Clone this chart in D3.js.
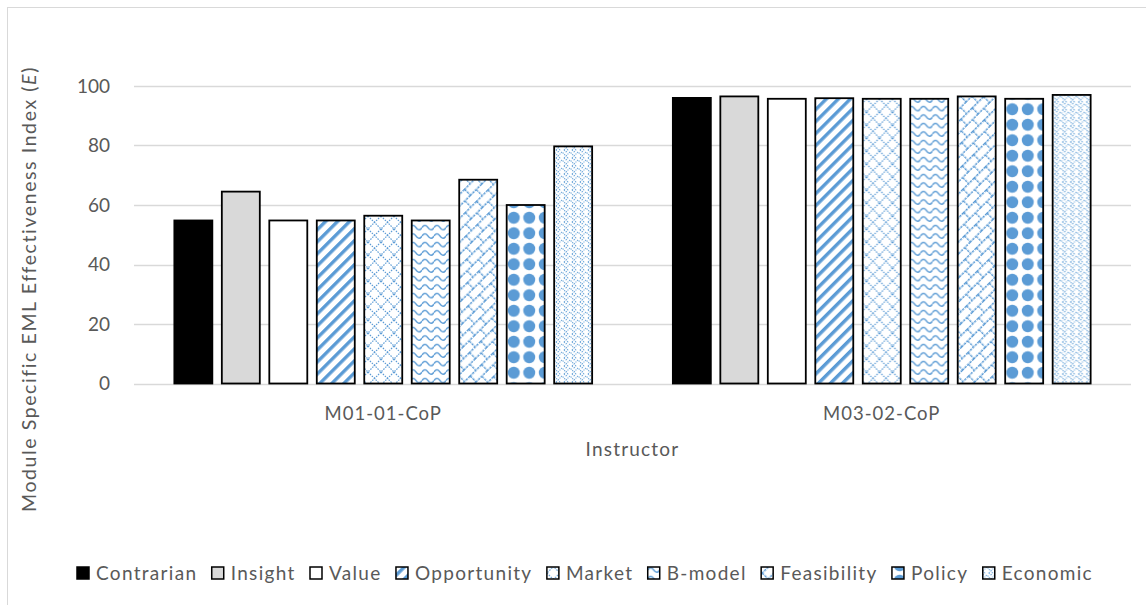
<!DOCTYPE html>
<html>
<head>
<meta charset="utf-8">
<script src="https://cdn.jsdelivr.net/npm/d3@7"></script>
<style>
    body { margin: 0; background: #fff; }
    svg text { font-family: Lato, "Open Sans", sans-serif; fill: #595959; }
</style>
</head>
<body>
<svg id="chart" width="1146" height="605"></svg>
<script>
// Data
const groups = ['M01-01-CoP', 'M03-02-CoP'];
const series = ['Contrarian', 'Insight', 'Value', 'Opportunity', 'Market', 'B-model', 'Feasibility', 'Policy', 'Economic'];
const m01Values = [54.8, 64.5, 54.8, 54.8, 56.4, 54.8, 68.5, 60.0, 79.7];
const m03Values = [96.0, 96.5, 95.7, 95.9, 95.7, 95.7, 96.5, 95.7, 97.0];
const yTicks = [0, 20, 40, 60, 80, 100];

const values = [m01Values, m03Values];
const BLUE = '#5B9BD5';

const svg = d3.select('#chart');
const margin = { left: 134, right: 15, top: 86, bottom: 221.5 };
const width = 1146 - margin.left - margin.right;
const height = 605 - margin.top - margin.bottom;

// Chart frame
svg.append('rect')
    .attr('x', 7.5).attr('y', 7.5)
    .attr('width', 1200).attr('height', 700)
    .attr('fill', 'none')
    .attr('stroke', '#D9D9D9');

// Fill patterns
const defs = svg.append('defs');

function makePattern(id, w, h, transform) {
    const p = defs.append('pattern')
        .attr('id', id)
        .attr('patternUnits', 'userSpaceOnUse')
        .attr('width', w).attr('height', h);
    if (transform) p.attr('patternTransform', transform);
    p.append('rect').attr('width', w).attr('height', h).attr('fill', '#fff');
    return p;
}

// wide upward diagonal
makePattern('p-opportunity', 8.5, 8.5, 'rotate(45)')
    .append('rect').attr('width', 3.4).attr('height', 8.5).attr('fill', BLUE);

// dotted diamond lattice
makePattern('p-market', 13, 13)
    .append('path')
    .attr('d', 'M0,0L13,13M13,0L0,13')
    .attr('stroke', BLUE).attr('stroke-width', 1.2)
    .attr('stroke-dasharray', '1.5,1.2').attr('fill', 'none');

// waves
makePattern('p-bmodel', 12, 8.5)
    .append('path')
    .attr('d', 'M0,5.5Q3,1 6,5.5T12,5.5')
    .attr('stroke', BLUE).attr('stroke-width', 1.5).attr('fill', 'none');

// diagonal brick
const brick = makePattern('p-feasibility', 16, 17, 'rotate(-45)');
brick.append('path')
    .attr('d', 'M0,0.7H16M0,9.2H16M0.7,0.7V9.2M8.7,9.2V17')
    .attr('stroke', BLUE).attr('stroke-width', 1.4)
    .attr('stroke-dasharray', '2.5,1').attr('fill', 'none');

// spheres
makePattern('p-policy', 15.5, 15.5)
    .append('circle')
    .attr('cx', 7.75).attr('cy', 7.75).attr('r', 6)
    .attr('fill', BLUE);

// light dotted zigzag weave
const zig = makePattern('p-economic', 8, 8);
zig.append('path')
    .attr('d', 'M0,6L4,2L8,6M0,2L2,0M6,0L8,2M2,8L0,6M6,8L8,6')
    .attr('stroke', BLUE).attr('stroke-width', 1.2)
    .attr('stroke-dasharray', '1.2,1').attr('fill', 'none')
    .attr('opacity', 0.85);

const fills = ['#000000', '#D9D9D9', '#FFFFFF', 'url(#p-opportunity)', 'url(#p-market)',
    'url(#p-bmodel)', 'url(#p-feasibility)', 'url(#p-policy)', 'url(#p-economic)'];

// Scales
const x0 = d3.scaleBand().domain(groups).range([0, width]);
const x1 = d3.scaleBand().domain(series).range([0, x0.bandwidth()])
    .paddingInner(0.2).paddingOuter(0.85);
const y = d3.scaleLinear().domain([0, 100]).range([height, 0]);

const g = svg.append('g').attr('transform', `translate(${margin.left},${margin.top})`);

// Gridlines
g.append('g')
    .selectAll('line')
    .data(yTicks)
    .join('line')
    .attr('x1', 0).attr('x2', width)
    .attr('y1', d => Math.round(y(d)) + 0.5).attr('y2', d => Math.round(y(d)) + 0.5)
    .attr('stroke', '#D9D9D9').attr('stroke-width', 1.4);

// Y tick labels
g.append('g')
    .selectAll('text')
    .data(yTicks)
    .join('text')
    .attr('x', -24)
    .attr('y', d => y(d))
    .attr('dy', '0.35em')
    .attr('text-anchor', 'end')
    .attr('font-size', '19px')
    .text(d => d);

// Bars
const groupG = g.selectAll('.group')
    .data(groups)
    .join('g')
    .attr('class', 'group')
    .attr('transform', d => `translate(${x0(d)},0)`);

groupG.selectAll('rect')
    .data((d, gi) => series.map((s, si) => ({ s, si, v: values[gi][si] })))
    .join('rect')
    .attr('x', d => x1(d.s))
    .attr('y', d => y(d.v))
    .attr('width', x1.bandwidth())
    .attr('height', d => y(0) - y(d.v))
    .attr('fill', d => fills[d.si])
    .attr('stroke', '#000')
    .attr('stroke-width', 1.8);

// Category labels
g.append('g')
    .selectAll('text')
    .data(groups)
    .join('text')
    .attr('x', d => x0(d) + x0.bandwidth() / 2)
    .attr('y', height + 36)
    .attr('text-anchor', 'middle')
    .attr('font-size', '18.5px')
    .attr('letter-spacing', '1px')
    .text(d => d);

// Axis titles
g.append('text')
    .attr('x', width / 2)
    .attr('y', height + 72)
    .attr('text-anchor', 'middle')
    .attr('font-size', '19px')
    .attr('letter-spacing', '1.2px')
    .text('Instructor');

const yTitle = svg.append('text')
    .attr('transform', 'translate(36,289) rotate(-90)')
    .attr('text-anchor', 'middle')
    .attr('font-size', '19.5px')
    .attr('letter-spacing', '1.6px');
yTitle.append('tspan').text('Module Specific EML Effectiveness  Index (');
yTitle.append('tspan').attr('font-style', 'italic').text('E');
yTitle.append('tspan').text(')');

// Legend, spread across the same span as the reference
const legendLeft = 77;
const legendRight = 1093;
const legend = svg.append('g').attr('transform', 'translate(0,573)');
const items = legend.selectAll('g')
    .data(series)
    .join('g');
items.append('rect')
    .attr('y', -6).attr('width', 12).attr('height', 12)
    .attr('fill', (d, i) => fills[i])
    .attr('stroke', '#000').attr('stroke-width', 1.5);
items.append('text')
    .attr('x', 19)
    .attr('dy', '0.35em')
    .attr('font-size', '19px')
    .attr('letter-spacing', '1.3px')
    .text(d => d);

const itemWidths = [];
items.each(function () {
    itemWidths.push(19 + d3.select(this).select('text').node().getComputedTextLength());
});
const gap = (legendRight - legendLeft - d3.sum(itemWidths)) / (series.length - 1);
let cursor = legendLeft;
const offsets = itemWidths.map(w => { const o = cursor; cursor += w + gap; return o; });
items.attr('transform', (d, i) => `translate(${offsets[i]},0)`);
</script>
</body>
</html>
